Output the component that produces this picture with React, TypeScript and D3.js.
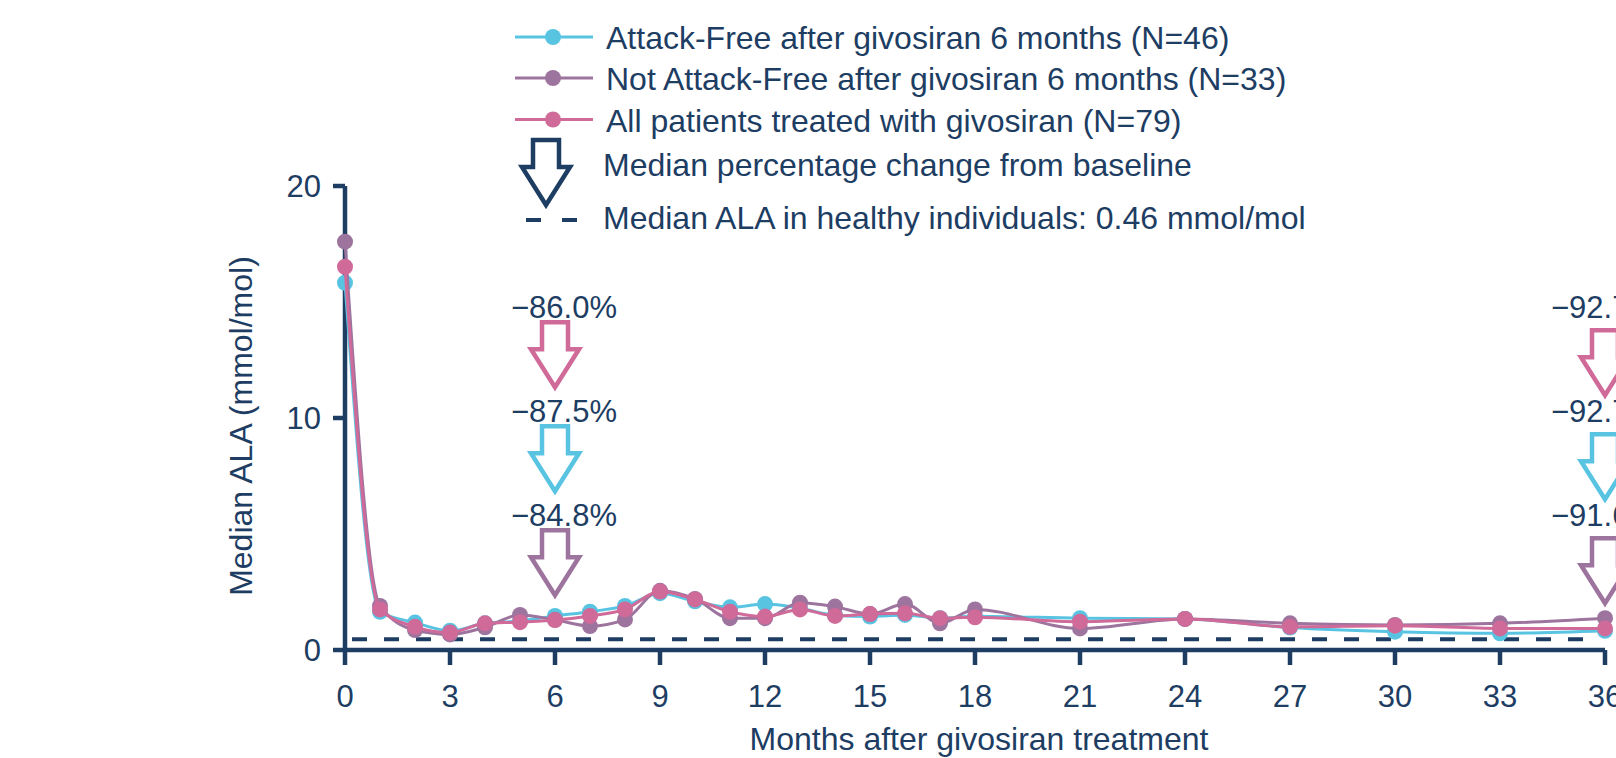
import * as d3 from 'd3';

const W = 1616;
const H = 758;

// months after givosiran treatment
const months = [0, 1, 2, 3, 4, 5, 6, 7, 8, 9, 10, 11, 12, 13, 14, 15, 16, 17, 18, 21, 24, 27, 30, 33, 36];
const xTicks = [0, 3, 6, 9, 12, 15, 18, 21, 24, 27, 30, 33, 36];
const yTicks = [0, 10, 20];

// median ALA (mmol/mol)
const attackFree = [15.83, 1.65, 1.18, 0.83, 1.15, 1.25, 1.47, 1.65, 1.9, 2.45, 2.1, 1.84, 1.98, 1.8, 1.5, 1.44, 1.51, 1.37, 1.45, 1.37, 1.34, 0.97, 0.79, 0.72, 0.83];
const notAttackFree = [17.6, 1.9, 0.86, 0.67, 0.98, 1.51, 1.3, 1.03, 1.32, 2.55, 2.2, 1.37, 1.37, 2.04, 1.87, 1.55, 1.98, 1.15, 1.75, 0.93, 1.34, 1.15, 1.08, 1.15, 1.37];
const allPatients = [16.52, 1.75, 1.0, 0.75, 1.15, 1.2, 1.29, 1.47, 1.75, 2.52, 2.18, 1.65, 1.44, 1.75, 1.47, 1.55, 1.58, 1.37, 1.41, 1.22, 1.34, 1.0, 1.05, 0.93, 0.93];
const healthyMedian = 0.46;

// median % change from baseline, annotated at these months
const annotMonths = [6, 36];
const pctAll = ['−86.0%', '−92.7%'];
const pctFree = ['−87.5%', '−92.7%'];
const pctNotFree = ['−84.8%', '−91.6%'];

const NAVY = '#1d3d63';
const CYAN = '#58c4e2';
const PURPLE = '#9d749e';
const PINK = '#cf6a99';
const FONT = '"Liberation Sans", Arial, Helvetica, sans-serif';

const seriesList = [
  { name: 'Attack-Free after givosiran 6 months (N=46)', values: attackFree, color: CYAN, pct: pctFree },
  { name: 'Not Attack-Free after givosiran 6 months (N=33)', values: notAttackFree, color: PURPLE, pct: pctNotFree },
  { name: 'All patients treated with givosiran (N=79)', values: allPatients, color: PINK, pct: pctAll },
];
// annotation stack order top to bottom
const annotOrder = [2, 0, 1];

const x = d3.scaleLinear().domain([0, 36]).range([345, 1605]);
const y = d3.scaleLinear().domain([0, 20]).range([650, 186]);

const arrowPath = (cx: number, top: number) => {
  const sw = 13, hw = 24, sl = 27, len = 65;
  return `M${cx - sw},${top}L${cx + sw},${top}L${cx + sw},${top + sl}L${cx + hw},${top + sl}L${cx},${top + len}L${cx - hw},${top + sl}L${cx - sw},${top + sl}Z`;
};

export default function App() {
  const line = d3
    .line<number>()
    .x((_, i) => x(months[i]))
    .y((d) => y(d))
    .curve(d3.curveMonotoneX);

  const textDx = [9, -1];
  const arrowGap = [4, 12];
  const firstBaseline = y(14.3);
  const pitch = 104;

  const legendRows = [37, 78, 119.5];

  return (
    <svg
      width={W}
      height={H}
      style={{ position: 'absolute', left: 0, top: 0, background: '#fff' }}
      fontFamily={FONT}
    >
      {/* healthy reference */}
      <line
        x1={352}
        x2={1590}
        y1={y(healthyMedian)}
        y2={y(healthyMedian)}
        stroke={NAVY}
        strokeWidth={4}
        strokeDasharray="15,17"
      />

      {/* axes */}
      <g stroke={NAVY} strokeWidth={4.5} fill="none">
        <line x1={x(0)} x2={x(36)} y1={y(0)} y2={y(0)} />
        <line x1={x(0)} x2={x(0)} y1={y(0)} y2={y(20)} />
        {xTicks.map((t) => (
          <line key={t} x1={x(t)} x2={x(t)} y1={y(0)} y2={y(0) + 15} />
        ))}
        {yTicks.map((t) => (
          <line key={t} x1={x(0) - 12} x2={x(0)} y1={y(t)} y2={y(t)} />
        ))}
      </g>
      <g fill={NAVY} fontSize={31}>
        {xTicks.map((t) => (
          <text key={t} x={x(t)} y={707} textAnchor="middle">
            {t}
          </text>
        ))}
        {yTicks.map((t) => (
          <text key={t} x={321} y={y(t) + 11} textAnchor="end">
            {t}
          </text>
        ))}
      </g>
      <text x={979} y={750} textAnchor="middle" fill={NAVY} fontSize={32}>
        Months after givosiran treatment
      </text>
      <text
        transform="translate(252,426) rotate(-90)"
        textAnchor="middle"
        fill={NAVY}
        fontSize={32}
      >
        Median ALA (mmol/mol)
      </text>

      {/* series */}
      {seriesList.map((s) => (
        <g key={s.name}>
          <path d={line(s.values) || ''} fill="none" stroke={s.color} strokeWidth={3} />
          {s.values.map((v, i) => (
            <circle key={i} cx={x(months[i])} cy={y(v)} r={8} fill={s.color} />
          ))}
        </g>
      ))}

      {/* % change annotations */}
      {annotMonths.map((m, j) =>
        annotOrder.map((si, k) => {
          const s = seriesList[si];
          const base = firstBaseline + k * pitch;
          return (
            <g key={`${m}-${si}`}>
              <text x={x(m) + textDx[j]} y={base} textAnchor="middle" fill={NAVY} fontSize={31}>
                {s.pct[j]}
              </text>
              <path
                d={arrowPath(x(m), base + arrowGap[j])}
                fill="#fff"
                stroke={s.color}
                strokeWidth={4.5}
              />
            </g>
          );
        })
      )}

      {/* legend */}
      <g fontSize={32} fill={NAVY}>
        {seriesList.map((s, i) => (
          <g key={s.name}>
            <line x1={515} x2={593} y1={legendRows[i]} y2={legendRows[i]} stroke={s.color} strokeWidth={3} />
            <circle cx={553} cy={legendRows[i]} r={8} fill={s.color} />
            <text x={606} y={legendRows[i] + 12}>
              {s.name}
            </text>
          </g>
        ))}
        <path d={arrowPath(546, 140)} fill="#fff" stroke={NAVY} strokeWidth={4.5} />
        <text x={603} y={176}>
          Median percentage change from baseline
        </text>
        <line x1={526} x2={541} y1={220} y2={220} stroke={NAVY} strokeWidth={4} />
        <line x1={562} x2={577} y1={220} y2={220} stroke={NAVY} strokeWidth={4} />
        <text x={603} y={229}>
          Median ALA in healthy individuals: 0.46 mmol/mol
        </text>
      </g>
    </svg>
  );
}
